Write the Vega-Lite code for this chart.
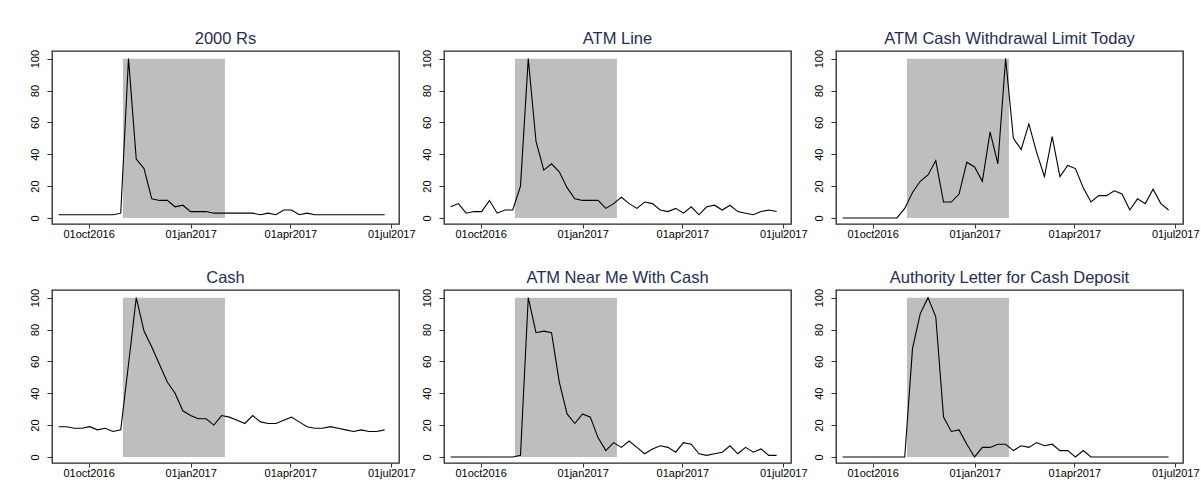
{
  "$schema": "https://vega.github.io/schema/vega-lite/v6.json",
  "padding": {"left": 28, "top": 30, "right": 0, "bottom": 0},
  "spacing": 29,
  "datasets": {
    "shade": [{"start": "2016-11-01", "end": "2017-02-01", "lo": 0, "hi": 100}],
    "trends": [
      {"week": "2016-09-04", "rs2000": 2, "atm_line": 7, "atm_limit": 0, "cash": 19, "atm_near": 0, "authority": 0},
      {"week": "2016-09-11", "rs2000": 2, "atm_line": 9, "atm_limit": 0, "cash": 19, "atm_near": 0, "authority": 0},
      {"week": "2016-09-18", "rs2000": 2, "atm_line": 3, "atm_limit": 0, "cash": 18, "atm_near": 0, "authority": 0},
      {"week": "2016-09-25", "rs2000": 2, "atm_line": 4, "atm_limit": 0, "cash": 18, "atm_near": 0, "authority": 0},
      {"week": "2016-10-02", "rs2000": 2, "atm_line": 4, "atm_limit": 0, "cash": 19, "atm_near": 0, "authority": 0},
      {"week": "2016-10-09", "rs2000": 2, "atm_line": 11, "atm_limit": 0, "cash": 17, "atm_near": 0, "authority": 0},
      {"week": "2016-10-16", "rs2000": 2, "atm_line": 3, "atm_limit": 0, "cash": 18, "atm_near": 0, "authority": 0},
      {"week": "2016-10-23", "rs2000": 2, "atm_line": 5, "atm_limit": 0, "cash": 16, "atm_near": 0, "authority": 0},
      {"week": "2016-10-30", "rs2000": 3, "atm_line": 5, "atm_limit": 6, "cash": 17, "atm_near": 0, "authority": 0},
      {"week": "2016-11-06", "rs2000": 100, "atm_line": 20, "atm_limit": 16, "cash": 58, "atm_near": 1, "authority": 68},
      {"week": "2016-11-13", "rs2000": 37, "atm_line": 100, "atm_limit": 23, "cash": 100, "atm_near": 100, "authority": 90},
      {"week": "2016-11-20", "rs2000": 31, "atm_line": 48, "atm_limit": 27, "cash": 79, "atm_near": 78, "authority": 100},
      {"week": "2016-11-27", "rs2000": 12, "atm_line": 30, "atm_limit": 36, "cash": 69, "atm_near": 79, "authority": 88},
      {"week": "2016-12-04", "rs2000": 11, "atm_line": 34, "atm_limit": 10, "cash": 58, "atm_near": 78, "authority": 25},
      {"week": "2016-12-11", "rs2000": 11, "atm_line": 29, "atm_limit": 10, "cash": 47, "atm_near": 47, "authority": 16},
      {"week": "2016-12-18", "rs2000": 7, "atm_line": 19, "atm_limit": 15, "cash": 40, "atm_near": 27, "authority": 17},
      {"week": "2016-12-25", "rs2000": 8, "atm_line": 12, "atm_limit": 35, "cash": 29, "atm_near": 21, "authority": 8},
      {"week": "2017-01-01", "rs2000": 4, "atm_line": 11, "atm_limit": 32, "cash": 26, "atm_near": 27, "authority": 0},
      {"week": "2017-01-08", "rs2000": 4, "atm_line": 11, "atm_limit": 23, "cash": 24, "atm_near": 25, "authority": 6},
      {"week": "2017-01-15", "rs2000": 4, "atm_line": 11, "atm_limit": 54, "cash": 24, "atm_near": 12, "authority": 6},
      {"week": "2017-01-22", "rs2000": 3, "atm_line": 6, "atm_limit": 34, "cash": 20, "atm_near": 4, "authority": 8},
      {"week": "2017-01-29", "rs2000": 3, "atm_line": 9, "atm_limit": 100, "cash": 26, "atm_near": 9, "authority": 8},
      {"week": "2017-02-05", "rs2000": 3, "atm_line": 13, "atm_limit": 50, "cash": 25, "atm_near": 6, "authority": 4},
      {"week": "2017-02-12", "rs2000": 3, "atm_line": 9, "atm_limit": 43, "cash": 23, "atm_near": 10, "authority": 7},
      {"week": "2017-02-19", "rs2000": 3, "atm_line": 6, "atm_limit": 59, "cash": 21, "atm_near": 6, "authority": 6},
      {"week": "2017-02-26", "rs2000": 3, "atm_line": 10, "atm_limit": 41, "cash": 26, "atm_near": 2, "authority": 9},
      {"week": "2017-03-05", "rs2000": 2, "atm_line": 9, "atm_limit": 26, "cash": 22, "atm_near": 5, "authority": 7},
      {"week": "2017-03-12", "rs2000": 3, "atm_line": 5, "atm_limit": 51, "cash": 21, "atm_near": 7, "authority": 8},
      {"week": "2017-03-19", "rs2000": 2, "atm_line": 4, "atm_limit": 26, "cash": 21, "atm_near": 6, "authority": 4},
      {"week": "2017-03-26", "rs2000": 5, "atm_line": 6, "atm_limit": 33, "cash": 23, "atm_near": 3, "authority": 4},
      {"week": "2017-04-02", "rs2000": 5, "atm_line": 3, "atm_limit": 31, "cash": 25, "atm_near": 9, "authority": 0},
      {"week": "2017-04-09", "rs2000": 2, "atm_line": 7, "atm_limit": 19, "cash": 22, "atm_near": 8, "authority": 4},
      {"week": "2017-04-16", "rs2000": 3, "atm_line": 2, "atm_limit": 10, "cash": 19, "atm_near": 2, "authority": 0},
      {"week": "2017-04-23", "rs2000": 2, "atm_line": 7, "atm_limit": 14, "cash": 18, "atm_near": 1, "authority": 0},
      {"week": "2017-04-30", "rs2000": 2, "atm_line": 8, "atm_limit": 14, "cash": 18, "atm_near": 2, "authority": 0},
      {"week": "2017-05-07", "rs2000": 2, "atm_line": 5, "atm_limit": 17, "cash": 19, "atm_near": 3, "authority": 0},
      {"week": "2017-05-14", "rs2000": 2, "atm_line": 8, "atm_limit": 15, "cash": 18, "atm_near": 7, "authority": 0},
      {"week": "2017-05-21", "rs2000": 2, "atm_line": 4, "atm_limit": 5, "cash": 17, "atm_near": 2, "authority": 0},
      {"week": "2017-05-28", "rs2000": 2, "atm_line": 3, "atm_limit": 12, "cash": 16, "atm_near": 6, "authority": 0},
      {"week": "2017-06-04", "rs2000": 2, "atm_line": 2, "atm_limit": 9, "cash": 17, "atm_near": 3, "authority": 0},
      {"week": "2017-06-11", "rs2000": 2, "atm_line": 4, "atm_limit": 18, "cash": 16, "atm_near": 5, "authority": 0},
      {"week": "2017-06-18", "rs2000": 2, "atm_line": 5, "atm_limit": 9, "cash": 16, "atm_near": 1, "authority": 0},
      {"week": "2017-06-25", "rs2000": 2, "atm_line": 4, "atm_limit": 5, "cash": 17, "atm_near": 1, "authority": 0}
    ]
  },
  "vconcat": [
    {"bounds": "flush", "spacing": 45, "hconcat": [
      {"title": "2000 Rs", "width": 347, "height": 173, "layer": [
        {"data": {"name": "shade"}, "mark": {"type": "rect", "color": "#bebebe"}, "encoding": {
          "x": {"field": "start", "type": "temporal", "scale": {"type": "utc", "domain": [{"year": 2016, "month": 8, "date": 29, "utc": true}, {"year": 2017, "month": 7, "date": 8, "utc": true}]}, "axis": {"title": null, "values": [{"year": 2016, "month": 10, "date": 1, "utc": true}, {"year": 2017, "month": 1, "date": 1, "utc": true}, {"year": 2017, "month": 4, "date": 1, "utc": true}, {"year": 2017, "month": 7, "date": 1, "utc": true}], "labelExpr": "lower(utcFormat(datum.value, '%d%b%Y'))"}},
          "x2": {"field": "end"},
          "y": {"field": "lo", "type": "quantitative", "scale": {"domain": [-3.8, 104.8], "nice": false, "zero": false}, "axis": {"title": null, "values": [0, 20, 40, 60, 80, 100]}},
          "y2": {"field": "hi"}}},
        {"data": {"name": "trends"}, "mark": {"type": "line", "color": "#000000", "strokeWidth": 1.1}, "encoding": {
          "x": {"field": "week", "type": "temporal", "scale": {"type": "utc", "domain": [{"year": 2016, "month": 8, "date": 29, "utc": true}, {"year": 2017, "month": 7, "date": 8, "utc": true}]}, "axis": {"title": null, "values": [{"year": 2016, "month": 10, "date": 1, "utc": true}, {"year": 2017, "month": 1, "date": 1, "utc": true}, {"year": 2017, "month": 4, "date": 1, "utc": true}, {"year": 2017, "month": 7, "date": 1, "utc": true}], "labelExpr": "lower(utcFormat(datum.value, '%d%b%Y'))"}},
          "y": {"field": "rs2000", "type": "quantitative", "scale": {"domain": [-3.8, 104.8], "nice": false, "zero": false}, "axis": {"title": null, "values": [0, 20, 40, 60, 80, 100]}}}}
      ]},
      {"title": "ATM Line", "width": 347, "height": 173, "layer": [
        {"data": {"name": "shade"}, "mark": {"type": "rect", "color": "#bebebe"}, "encoding": {
          "x": {"field": "start", "type": "temporal", "scale": {"type": "utc", "domain": [{"year": 2016, "month": 8, "date": 29, "utc": true}, {"year": 2017, "month": 7, "date": 8, "utc": true}]}, "axis": {"title": null, "values": [{"year": 2016, "month": 10, "date": 1, "utc": true}, {"year": 2017, "month": 1, "date": 1, "utc": true}, {"year": 2017, "month": 4, "date": 1, "utc": true}, {"year": 2017, "month": 7, "date": 1, "utc": true}], "labelExpr": "lower(utcFormat(datum.value, '%d%b%Y'))"}},
          "x2": {"field": "end"},
          "y": {"field": "lo", "type": "quantitative", "scale": {"domain": [-3.8, 104.8], "nice": false, "zero": false}, "axis": {"title": null, "values": [0, 20, 40, 60, 80, 100]}},
          "y2": {"field": "hi"}}},
        {"data": {"name": "trends"}, "mark": {"type": "line", "color": "#000000", "strokeWidth": 1.1}, "encoding": {
          "x": {"field": "week", "type": "temporal", "scale": {"type": "utc", "domain": [{"year": 2016, "month": 8, "date": 29, "utc": true}, {"year": 2017, "month": 7, "date": 8, "utc": true}]}, "axis": {"title": null, "values": [{"year": 2016, "month": 10, "date": 1, "utc": true}, {"year": 2017, "month": 1, "date": 1, "utc": true}, {"year": 2017, "month": 4, "date": 1, "utc": true}, {"year": 2017, "month": 7, "date": 1, "utc": true}], "labelExpr": "lower(utcFormat(datum.value, '%d%b%Y'))"}},
          "y": {"field": "atm_line", "type": "quantitative", "scale": {"domain": [-3.8, 104.8], "nice": false, "zero": false}, "axis": {"title": null, "values": [0, 20, 40, 60, 80, 100]}}}}
      ]},
      {"title": "ATM Cash Withdrawal Limit Today", "width": 347, "height": 173, "layer": [
        {"data": {"name": "shade"}, "mark": {"type": "rect", "color": "#bebebe"}, "encoding": {
          "x": {"field": "start", "type": "temporal", "scale": {"type": "utc", "domain": [{"year": 2016, "month": 8, "date": 29, "utc": true}, {"year": 2017, "month": 7, "date": 8, "utc": true}]}, "axis": {"title": null, "values": [{"year": 2016, "month": 10, "date": 1, "utc": true}, {"year": 2017, "month": 1, "date": 1, "utc": true}, {"year": 2017, "month": 4, "date": 1, "utc": true}, {"year": 2017, "month": 7, "date": 1, "utc": true}], "labelExpr": "lower(utcFormat(datum.value, '%d%b%Y'))"}},
          "x2": {"field": "end"},
          "y": {"field": "lo", "type": "quantitative", "scale": {"domain": [-3.8, 104.8], "nice": false, "zero": false}, "axis": {"title": null, "values": [0, 20, 40, 60, 80, 100]}},
          "y2": {"field": "hi"}}},
        {"data": {"name": "trends"}, "mark": {"type": "line", "color": "#000000", "strokeWidth": 1.1}, "encoding": {
          "x": {"field": "week", "type": "temporal", "scale": {"type": "utc", "domain": [{"year": 2016, "month": 8, "date": 29, "utc": true}, {"year": 2017, "month": 7, "date": 8, "utc": true}]}, "axis": {"title": null, "values": [{"year": 2016, "month": 10, "date": 1, "utc": true}, {"year": 2017, "month": 1, "date": 1, "utc": true}, {"year": 2017, "month": 4, "date": 1, "utc": true}, {"year": 2017, "month": 7, "date": 1, "utc": true}], "labelExpr": "lower(utcFormat(datum.value, '%d%b%Y'))"}},
          "y": {"field": "atm_limit", "type": "quantitative", "scale": {"domain": [-3.8, 104.8], "nice": false, "zero": false}, "axis": {"title": null, "values": [0, 20, 40, 60, 80, 100]}}}}
      ]}
    ]},
    {"bounds": "flush", "spacing": 45, "hconcat": [
      {"title": "Cash", "width": 347, "height": 173, "layer": [
        {"data": {"name": "shade"}, "mark": {"type": "rect", "color": "#bebebe"}, "encoding": {
          "x": {"field": "start", "type": "temporal", "scale": {"type": "utc", "domain": [{"year": 2016, "month": 8, "date": 29, "utc": true}, {"year": 2017, "month": 7, "date": 8, "utc": true}]}, "axis": {"title": null, "values": [{"year": 2016, "month": 10, "date": 1, "utc": true}, {"year": 2017, "month": 1, "date": 1, "utc": true}, {"year": 2017, "month": 4, "date": 1, "utc": true}, {"year": 2017, "month": 7, "date": 1, "utc": true}], "labelExpr": "lower(utcFormat(datum.value, '%d%b%Y'))"}},
          "x2": {"field": "end"},
          "y": {"field": "lo", "type": "quantitative", "scale": {"domain": [-3.8, 104.8], "nice": false, "zero": false}, "axis": {"title": null, "values": [0, 20, 40, 60, 80, 100]}},
          "y2": {"field": "hi"}}},
        {"data": {"name": "trends"}, "mark": {"type": "line", "color": "#000000", "strokeWidth": 1.1}, "encoding": {
          "x": {"field": "week", "type": "temporal", "scale": {"type": "utc", "domain": [{"year": 2016, "month": 8, "date": 29, "utc": true}, {"year": 2017, "month": 7, "date": 8, "utc": true}]}, "axis": {"title": null, "values": [{"year": 2016, "month": 10, "date": 1, "utc": true}, {"year": 2017, "month": 1, "date": 1, "utc": true}, {"year": 2017, "month": 4, "date": 1, "utc": true}, {"year": 2017, "month": 7, "date": 1, "utc": true}], "labelExpr": "lower(utcFormat(datum.value, '%d%b%Y'))"}},
          "y": {"field": "cash", "type": "quantitative", "scale": {"domain": [-3.8, 104.8], "nice": false, "zero": false}, "axis": {"title": null, "values": [0, 20, 40, 60, 80, 100]}}}}
      ]},
      {"title": "ATM Near Me With Cash", "width": 347, "height": 173, "layer": [
        {"data": {"name": "shade"}, "mark": {"type": "rect", "color": "#bebebe"}, "encoding": {
          "x": {"field": "start", "type": "temporal", "scale": {"type": "utc", "domain": [{"year": 2016, "month": 8, "date": 29, "utc": true}, {"year": 2017, "month": 7, "date": 8, "utc": true}]}, "axis": {"title": null, "values": [{"year": 2016, "month": 10, "date": 1, "utc": true}, {"year": 2017, "month": 1, "date": 1, "utc": true}, {"year": 2017, "month": 4, "date": 1, "utc": true}, {"year": 2017, "month": 7, "date": 1, "utc": true}], "labelExpr": "lower(utcFormat(datum.value, '%d%b%Y'))"}},
          "x2": {"field": "end"},
          "y": {"field": "lo", "type": "quantitative", "scale": {"domain": [-3.8, 104.8], "nice": false, "zero": false}, "axis": {"title": null, "values": [0, 20, 40, 60, 80, 100]}},
          "y2": {"field": "hi"}}},
        {"data": {"name": "trends"}, "mark": {"type": "line", "color": "#000000", "strokeWidth": 1.1}, "encoding": {
          "x": {"field": "week", "type": "temporal", "scale": {"type": "utc", "domain": [{"year": 2016, "month": 8, "date": 29, "utc": true}, {"year": 2017, "month": 7, "date": 8, "utc": true}]}, "axis": {"title": null, "values": [{"year": 2016, "month": 10, "date": 1, "utc": true}, {"year": 2017, "month": 1, "date": 1, "utc": true}, {"year": 2017, "month": 4, "date": 1, "utc": true}, {"year": 2017, "month": 7, "date": 1, "utc": true}], "labelExpr": "lower(utcFormat(datum.value, '%d%b%Y'))"}},
          "y": {"field": "atm_near", "type": "quantitative", "scale": {"domain": [-3.8, 104.8], "nice": false, "zero": false}, "axis": {"title": null, "values": [0, 20, 40, 60, 80, 100]}}}}
      ]},
      {"title": "Authority Letter for Cash Deposit", "width": 347, "height": 173, "layer": [
        {"data": {"name": "shade"}, "mark": {"type": "rect", "color": "#bebebe"}, "encoding": {
          "x": {"field": "start", "type": "temporal", "scale": {"type": "utc", "domain": [{"year": 2016, "month": 8, "date": 29, "utc": true}, {"year": 2017, "month": 7, "date": 8, "utc": true}]}, "axis": {"title": null, "values": [{"year": 2016, "month": 10, "date": 1, "utc": true}, {"year": 2017, "month": 1, "date": 1, "utc": true}, {"year": 2017, "month": 4, "date": 1, "utc": true}, {"year": 2017, "month": 7, "date": 1, "utc": true}], "labelExpr": "lower(utcFormat(datum.value, '%d%b%Y'))"}},
          "x2": {"field": "end"},
          "y": {"field": "lo", "type": "quantitative", "scale": {"domain": [-3.8, 104.8], "nice": false, "zero": false}, "axis": {"title": null, "values": [0, 20, 40, 60, 80, 100]}},
          "y2": {"field": "hi"}}},
        {"data": {"name": "trends"}, "mark": {"type": "line", "color": "#000000", "strokeWidth": 1.1}, "encoding": {
          "x": {"field": "week", "type": "temporal", "scale": {"type": "utc", "domain": [{"year": 2016, "month": 8, "date": 29, "utc": true}, {"year": 2017, "month": 7, "date": 8, "utc": true}]}, "axis": {"title": null, "values": [{"year": 2016, "month": 10, "date": 1, "utc": true}, {"year": 2017, "month": 1, "date": 1, "utc": true}, {"year": 2017, "month": 4, "date": 1, "utc": true}, {"year": 2017, "month": 7, "date": 1, "utc": true}], "labelExpr": "lower(utcFormat(datum.value, '%d%b%Y'))"}},
          "y": {"field": "authority", "type": "quantitative", "scale": {"domain": [-3.8, 104.8], "nice": false, "zero": false}, "axis": {"title": null, "values": [0, 20, 40, 60, 80, 100]}}}}
      ]}
    ]}
  ],
  "config": {
    "font": "Liberation Sans",
    "background": "#ffffff",
    "view": {"stroke": "#262626", "strokeWidth": 1.3},
    "axis": {"grid": false, "domain": false, "ticks": true, "tickColor": "#333333", "tickWidth": 1, "labelFontSize": 11, "labelColor": "#000000", "labelOverlap": false, "labelFlush": false, "labelBound": false},
    "axisX": {"tickSize": 4, "labelPadding": 0},
    "axisY": {"labelAngle": 270, "tickSize": 5, "labelPadding": 7},
    "title": {"fontSize": 16.5, "fontWeight": "normal", "color": "#1f2d56", "offset": 2, "anchor": "middle"}
  }
}
